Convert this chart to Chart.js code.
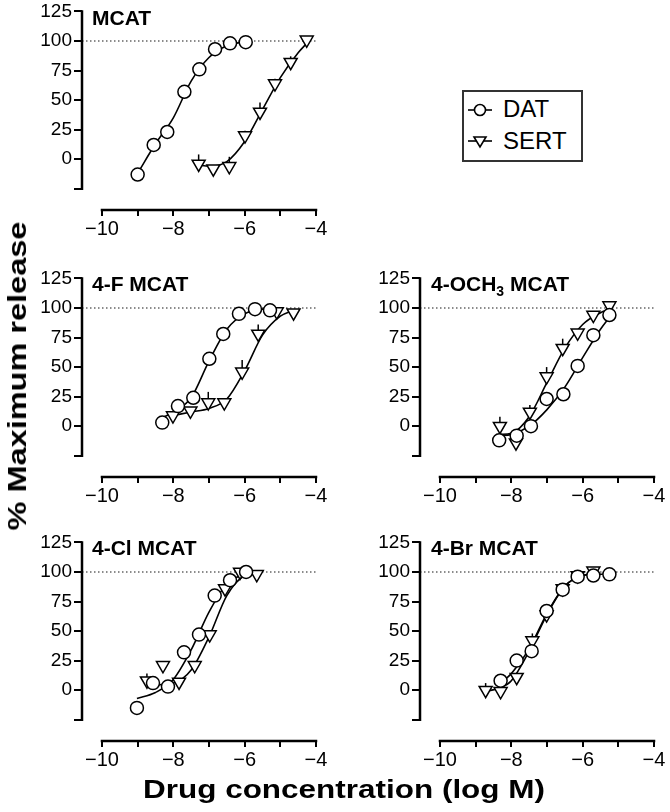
<!DOCTYPE html>
<html>
<head>
<meta charset="utf-8">
<script src="https://cdn.jsdelivr.net/npm/chart.js@4.4.1/dist/chart.umd.min.js"></script>
<style>
	body { margin: 0; background: #fff; }
	#page { position: relative; width: 670px; height: 812px; overflow: hidden; font-family: "Liberation Sans", Arial, sans-serif; color: #000; }
	.panel { position: absolute; width: 330px; height: 252px; }
	.ptitle { position: absolute; font-weight: bold; font-size: 21px; line-height: 1; white-space: nowrap; }
	.ptitle sub { font-size: 14px; vertical-align: -5px; line-height: 0; }
	#legend { position: absolute; left: 462px; top: 90px; width: 117px; height: 68px; border: 2px solid #333; }
	.lg-sym { position: absolute; left: 0; }
	.lg-txt { position: absolute; left: 39px; font-size: 24px; line-height: 1; }
	#xtitle { position: absolute; left: 344px; top: 776px; font-weight: bold; font-size: 26px; line-height: 1; white-space: nowrap; transform: translateX(-50%) scaleX(1.21); }
	#ytitle { position: absolute; left: 17px; top: 376px; font-weight: bold; font-size: 26px; line-height: 1; white-space: nowrap; transform: translate(-50%, -50%) rotate(-90deg) scaleX(1.25); }
</style>
</head>
<body>
<div id="page">
	<div class="panel" style="left:0px; top:-2px;"><canvas id="mcat" width="330" height="252"></canvas></div>
	<div class="panel" style="left:0px; top:265px;"><canvas id="fmcat" width="330" height="252"></canvas></div>
	<div class="panel" style="left:338px; top:265px;"><canvas id="omcat" width="330" height="252"></canvas></div>
	<div class="panel" style="left:0px; top:529px;"><canvas id="clmcat" width="330" height="252"></canvas></div>
	<div class="panel" style="left:338px; top:529px;"><canvas id="brmcat" width="330" height="252"></canvas></div>

	<div class="ptitle" style="left:92px; top:7px;">MCAT</div>
	<div class="ptitle" style="left:92px; top:273px;">4-F MCAT</div>
	<div class="ptitle" style="left:431px; top:273px;">4-OCH<sub>3</sub> MCAT</div>
	<div class="ptitle" style="left:92px; top:537px;">4-Cl MCAT</div>
	<div class="ptitle" style="left:431px; top:537px;">4-Br MCAT</div>

	<div id="legend">
		<svg class="lg-sym" style="top:10px;" width="34" height="16">
			<line x1="4" y1="8" x2="28" y2="8" stroke="#000" stroke-width="1.6"/>
			<circle cx="16" cy="8" r="5.5" fill="#fff" stroke="#000" stroke-width="1.6"/>
		</svg>
		<span class="lg-txt" style="top:5px;">DAT</span>
		<svg class="lg-sym" style="top:41px;" width="34" height="18">
			<line x1="4" y1="8" x2="28" y2="8" stroke="#000" stroke-width="1.6"/>
			<polygon points="10,4 22,4 16,14" fill="#fff" stroke="#000" stroke-width="1.6"/>
		</svg>
		<span class="lg-txt" style="top:37px;">SERT</span>
	</div>

	<div id="ytitle">% Maximum release</div>
	<div id="xtitle">Drug concentration (log M)</div>
</div>

<script>
// axes
const xTicks = [-10, -9, -8, -7, -6, -5, -4];
const xTickLabels = ["\u221210", "", "\u22128", "", "\u22126", "", "\u22124"];
const yTicks = [-25, 0, 25, 50, 75, 100, 125];
const yTickLabels = ["", "0", "25", "50", "75", "100", "125"];
const refLevel = 100;

// MCAT
const mcatDatX = [-9.0, -8.55, -8.17, -7.69, -7.27, -6.83, -6.41, -5.97];
const mcatDatY = [-13, 12, 23, 57, 76, 93, 98, 99];
const mcatSertX = [-7.29, -6.88, -6.43, -5.99, -5.57, -5.15, -4.71, -4.26];
const mcatSertY = [-4, -8, -6, 20, 40, 64, 82, 101];
const mcatSertErr = [8, 0, 8, 4, 8, 4, 5, 0];
const mcatDatFitX = [-9.0, -8.5, -8.0, -7.5, -7.0, -6.5, -5.97];
const mcatDatFitY = [-12, 13, 35, 66, 86, 96, 99.5];
const mcatSertFitX = [-7.29, -7.0, -6.5, -6.0, -5.5, -5.0, -4.5, -4.26];
const mcatSertFitY = [-5, -6, -2, 15, 42, 69, 90, 98];

// 4-F MCAT
const fDatX = [-8.31, -7.87, -7.44, -6.99, -6.60, -6.16, -5.71, -5.29];
const fDatY = [3, 17, 24, 57, 78, 95, 99, 98];
const fSertX = [-8.01, -7.52, -7.02, -6.57, -6.07, -5.62, -5.10, -4.63];
const fSertY = [9, 13, 20, 20, 46, 78, 97, 96];
const fSertErr = [0, 0, 9, 0, 10, 8, 0, 0];
const fDatFitX = [-8.31, -8.0, -7.5, -7.0, -6.5, -6.0, -5.5, -5.29];
const fDatFitY = [7, 12, 24, 55, 82, 95, 99, 99.5];
const fSertFitX = [-8.01, -7.5, -7.0, -6.5, -6.0, -5.5, -5.0, -4.63];
const fSertFitY = [9, 12, 15, 23, 47, 77, 93, 98];

// 4-OCH3 MCAT
const oDatX = [-8.34, -7.85, -7.45, -7.01, -6.54, -6.14, -5.70, -5.25];
const oDatY = [-12, -8, 0, 23, 27, 51, 77, 94];
const oSertX = [-8.32, -7.87, -7.48, -7.01, -6.56, -6.14, -5.70, -5.25];
const oSertY = [0, -14, 12, 42, 66, 79, 94, 102];
const oSertErr = [8, 0, 6, 8, 8, 0, 0, 0];
const oDatFitX = [-8.34, -8.0, -7.5, -7.0, -6.5, -6.0, -5.5, -5.25];
const oDatFitY = [-8, -7, 0, 14, 33, 58, 82, 92];
const oSertFitX = [-8.32, -8.0, -7.5, -7.0, -6.5, -6.0, -5.5, -5.25];
const oSertFitY = [-7, -6, 8, 37, 66, 86, 96, 99];

// 4-Cl MCAT
const clDatX = [-9.02, -8.57, -8.15, -7.70, -7.28, -6.84, -6.41, -5.96];
const clDatY = [-15, 6, 3, 32, 47, 80, 93, 100];
const clSertX = [-8.74, -8.29, -7.84, -7.40, -6.98, -6.55, -6.13, -5.66];
const clSertY = [8, 21, 7, 21, 47, 86, 100, 98];
const clSertErr = [6, 0, 0, 0, 0, 0, 0, 0];
const clDatFitX = [-9.02, -8.5, -8.0, -7.5, -7.0, -6.5, -5.96];
const clDatFitY = [-7, -2, 9, 34, 66, 90, 99];
const clSertFitX = [-8.74, -8.0, -7.5, -7.0, -6.5, -6.0, -5.66];
const clSertFitY = [4, 6, 17, 45, 80, 97, 99];

// 4-Br MCAT
const brDatX = [-8.30, -7.85, -7.43, -7.01, -6.56, -6.14, -5.70, -5.25];
const brDatY = [8, 25, 33, 67, 85, 96, 97, 98];
const brSertX = [-8.72, -8.30, -7.85, -7.41, -7.01, -6.56, -6.14, -5.70];
const brSertY = [0, -1, 11, 42, 64, 86, 97, 101];
const brSertErr = [6, 0, 0, 6, 0, 0, 0, 0];
const brDatFitX = [-8.30, -8.0, -7.5, -7.0, -6.5, -6.0, -5.5, -5.25];
const brDatFitY = [6, 14, 35, 65, 88, 97, 98, 98];
const brSertFitX = [-8.72, -8.3, -8.0, -7.5, -7.0, -6.5, -6.0, -5.7];
const brSertFitY = [-1, 2, 8, 33, 64, 88, 97, 98];

const toPoints = (xs, ys) => xs.map((x, i) => ({ x, y: ys[i] }));

// offset axes, dotted 100% line and SEM bars
const prismAxes = {
	id: "prismAxes",
	beforeDatasetsDraw(chart, args, opts) {
		const { ctx, chartArea, scales } = chart;
		const x = scales.x;
		const y = scales.y;
		ctx.save();
		const yRef = y.getPixelForValue(refLevel);
		ctx.strokeStyle = "#666";
		ctx.lineWidth = 1.5;
		ctx.setLineDash([1.5, 2.5]);
		ctx.beginPath();
		ctx.moveTo(chartArea.left, yRef);
		ctx.lineTo(x.getPixelForValue(xTicks[xTicks.length - 1]), yRef);
		ctx.stroke();
		ctx.setLineDash([]);

		ctx.strokeStyle = "#000";
		ctx.lineWidth = 2.5;
		ctx.lineCap = "square";
		ctx.beginPath();
		ctx.moveTo(chartArea.left, y.getPixelForValue(yTicks[0]));
		ctx.lineTo(chartArea.left, y.getPixelForValue(yTicks[yTicks.length - 1]));
		ctx.moveTo(x.getPixelForValue(xTicks[0]), chartArea.bottom);
		ctx.lineTo(x.getPixelForValue(xTicks[xTicks.length - 1]), chartArea.bottom);
		ctx.stroke();

		ctx.lineCap = "butt";
		ctx.lineWidth = 1.5;
		const errs = opts.errors || [];
		const sx = opts.errX || [];
		const sy = opts.errY || [];
		errs.forEach((e, i) => {
			if (!e) return;
			const px = x.getPixelForValue(sx[i]);
			ctx.beginPath();
			ctx.moveTo(px, y.getPixelForValue(sy[i]));
			ctx.lineTo(px, y.getPixelForValue(sy[i] + e));
			ctx.stroke();
		});
		ctx.restore();
	},
};

Chart.defaults.font.family = "'Liberation Sans', Arial, sans-serif";
Chart.defaults.color = "#000";

const makePanel = (id, p) => {
	const canvas = document.getElementById(id);
	return new Chart(canvas, {
		type: "scatter",
		data: {
			datasets: [
				{
					label: "DAT",
					data: toPoints(p.datX, p.datY),
					pointStyle: "circle",
					pointRadius: 6.5,
					pointBorderWidth: 1.5,
					pointBackgroundColor: "#fff",
					pointBorderColor: "#000",
					showLine: false,
					clip: false,
					order: 0,
				},
				{
					label: "SERT",
					data: toPoints(p.sertX, p.sertY),
					pointStyle: "triangle",
					rotation: 180,
					pointRadius: 7.5,
					pointBorderWidth: 1.5,
					pointBackgroundColor: "#fff",
					pointBorderColor: "#000",
					showLine: false,
					clip: false,
					order: 0,
				},
				{
					label: "DAT fit",
					data: toPoints(p.datFitX, p.datFitY),
					showLine: true,
					borderColor: "#000",
					borderWidth: 1.6,
					pointRadius: 0,
					cubicInterpolationMode: "monotone",
					clip: false,
					order: 1,
				},
				{
					label: "SERT fit",
					data: toPoints(p.sertFitX, p.sertFitY),
					showLine: true,
					borderColor: "#000",
					borderWidth: 1.6,
					pointRadius: 0,
					cubicInterpolationMode: "monotone",
					clip: false,
					order: 1,
				},
			],
		},
		options: {
			responsive: false,
			animation: false,
			events: [],
			layout: { padding: { left: 0, right: 14, top: 12, bottom: 0 } },
			plugins: {
				legend: { display: false },
				tooltip: { enabled: false },
				prismAxes: { errors: p.sertErr, errX: p.sertX, errY: p.sertY },
			},
			scales: {
				x: {
					type: "linear",
					min: -10.56,
					max: -4,
					afterBuildTicks: (s) => { s.ticks = xTicks.map((v) => ({ value: v })); },
					afterFit: (s) => { s.height = 40; },
					border: { display: false },
					grid: { drawOnChartArea: false, drawTicks: true, tickLength: 6, color: "#000", lineWidth: 2 },
					ticks: {
						autoSkip: false,
						maxRotation: 0,
						padding: 1,
						font: { size: 20 },
						callback: (v, i) => xTickLabels[i],
					},
				},
				y: {
					type: "linear",
					min: -43,
					max: 125,
					afterBuildTicks: (s) => { s.ticks = yTicks.map((v) => ({ value: v })); },
					afterFit: (s) => { s.width = 82; },
					border: { display: false },
					grid: { drawOnChartArea: false, drawTicks: true, tickLength: 8, color: "#000", lineWidth: 2 },
					ticks: {
						autoSkip: false,
						padding: 2,
						font: { size: 19 },
						callback: (v, i) => yTickLabels[i],
					},
				},
			},
		},
		plugins: [prismAxes],
	});
};

window.onload = () => {
	makePanel("mcat", { datX: mcatDatX, datY: mcatDatY, sertX: mcatSertX, sertY: mcatSertY, sertErr: mcatSertErr, datFitX: mcatDatFitX, datFitY: mcatDatFitY, sertFitX: mcatSertFitX, sertFitY: mcatSertFitY });
	makePanel("fmcat", { datX: fDatX, datY: fDatY, sertX: fSertX, sertY: fSertY, sertErr: fSertErr, datFitX: fDatFitX, datFitY: fDatFitY, sertFitX: fSertFitX, sertFitY: fSertFitY });
	makePanel("omcat", { datX: oDatX, datY: oDatY, sertX: oSertX, sertY: oSertY, sertErr: oSertErr, datFitX: oDatFitX, datFitY: oDatFitY, sertFitX: oSertFitX, sertFitY: oSertFitY });
	makePanel("clmcat", { datX: clDatX, datY: clDatY, sertX: clSertX, sertY: clSertY, sertErr: clSertErr, datFitX: clDatFitX, datFitY: clDatFitY, sertFitX: clSertFitX, sertFitY: clSertFitY });
	makePanel("brmcat", { datX: brDatX, datY: brDatY, sertX: brSertX, sertY: brSertY, sertErr: brSertErr, datFitX: brDatFitX, datFitY: brDatFitY, sertFitX: brSertFitX, sertFitY: brSertFitY });
};
</script>
</body>
</html>
